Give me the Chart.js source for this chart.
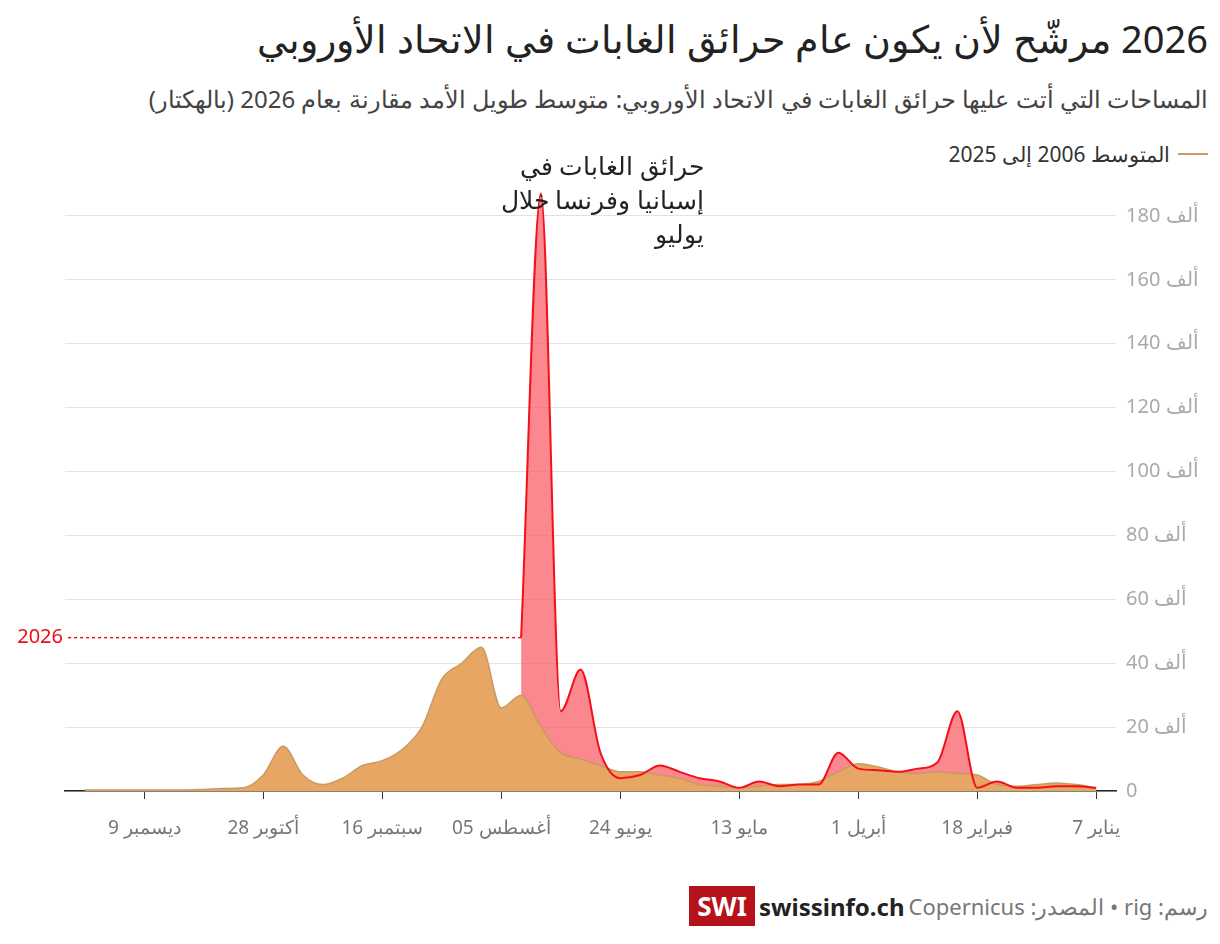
<!DOCTYPE html>
<html lang="ar">
<head>
<meta charset="utf-8">
<script src="https://cdn.jsdelivr.net/npm/chart.js@4"></script>
<style>
  body { margin:0; width:1220px; height:944px; background:#fff; font-family:"Noto Sans", sans-serif; color:#222; position:relative; overflow:hidden; }
  #title { position:absolute; right:12px; top:12px; font-size:38px; direction:rtl; }
  #sub { position:absolute; right:12px; top:82px; font-size:24px; color:#444; direction:rtl; }
  #legend { position:absolute; right:12px; top:140px; font-size:21px; color:#333; direction:rtl; display:flex; align-items:center; gap:8px; }
  #legend span.sw { width:30px; height:2px; background:#c99a60; display:inline-block; }
  #note { position:absolute; left:460px; width:244px; top:148px; font-size:25px; line-height:34px; text-align:right; direction:rtl; color:#222; }
  #wrap { position:absolute; left:0; top:150px; width:1220px; height:700px; }
  #foot { position:absolute; right:12px; top:886px; display:flex; align-items:center; gap:4px; direction:ltr; }
  #foot .logo { background:#b5121b; color:#fff; font-weight:bold; font-size:26px; padding:2px 8px; }
  #foot .site { font-weight:bold; font-size:24px; color:#222; }
  #foot .src { font-size:22px; color:#777; direction:rtl; }
</style>
</head>
<body>
<div id="title">2026 مرشّح لأن يكون عام حرائق الغابات في الاتحاد الأوروبي</div>
<div id="sub">المساحات التي أتت عليها حرائق الغابات في الاتحاد الأوروبي: متوسط طويل الأمد مقارنة بعام 2026 (بالهكتار)</div>
<div id="legend"><span class="sw"></span><span>المتوسط 2006 إلى 2025</span></div>
<div id="wrap"><canvas id="c"></canvas></div>
<div id="note">حرائق الغابات في إسبانيا وفرنسا خلال يوليو</div>
<div id="foot"><span class="logo">SWI</span><span class="site">swissinfo.ch</span><span class="src">رسم: rig • المصدر: Copernicus</span></div>
<script>
// weeks 1..52 (week 1 = 7 January)
const average = [1,2,2.5,2,1.5,2,5,5.5,6,5.5,6,7.5,8.5,6,3,2,2,1.5,1,1.5,2,4,5,6,6,8,10,12,20,30,26,45,40,35,20,13,9.5,8,4,2,5,14,5,1,0.8,0.5,0.3,0.3,0.3,0.3,0.3,0.3];
const y2026 = [1,1.5,1.5,1,1,3,1,25,9,7,6,6.5,7,12,2,2,1.5,3,1,3,4,6,8,5,4,12,38,25,187,48];
const tickWeeks = [1,7,13,19,25,31,37,43,49];
const tickDays = ["7","18","1","13","24","05","16","28","9"];
const tickMonths = ["يناير","فبراير","أبريل","مايو","يونيو","أغسطس","سبتمبر","أكتوبر","ديسمبر"];
const yTicks = [0,20,40,60,80,100,120,140,160,180];
const current = 48;

const pts = a => a.map((v, i) => ({x: i + 1, y: v}));

// number + word drawn as two pieces so the order is fixed left to right
function pair(ctx, left, num, word, yy) {
  ctx.textAlign = 'left';
  ctx.fillText(num, left, yy);
  if (word) ctx.fillText(word, left + ctx.measureText(num + ' ').width, yy);
}

const labelPlugin = {
  id: 'labels',
  afterDraw(chart) {
    const {ctx, scales:{x, y}} = chart;
    ctx.save();
    ctx.direction = 'ltr';
    ctx.textBaseline = 'middle';
    ctx.fillStyle = '#aaa'; ctx.font = '20px "Noto Sans"';
    yTicks.forEach(v => pair(ctx, x.right + 10, String(v), v ? 'ألف' : '', y.getPixelForValue(v)));
    ctx.fillStyle = '#777'; ctx.font = '19px "Noto Sans"';
    tickWeeks.forEach((v, i) => {
      const w = ctx.measureText(tickDays[i] + ' ' + tickMonths[i]).width;
      pair(ctx, x.getPixelForValue(v) - w / 2, tickDays[i], tickMonths[i], y.bottom + 38);
    });
    // 2026 marker
    const yy = y.getPixelForValue(current);
    ctx.strokeStyle = '#e8101a'; ctx.lineWidth = 1.5; ctx.setLineDash([3,3]);
    ctx.beginPath(); ctx.moveTo(x.getPixelForValue(y2026.length), yy); ctx.lineTo(x.left, yy); ctx.stroke();
    ctx.setLineDash([]);
    ctx.fillStyle = '#e8101a'; ctx.font = '20px "Noto Sans"'; ctx.textAlign = 'right';
    ctx.fillText('2026', x.left - 2, yy);
    ctx.restore();
  }
};

new Chart(document.getElementById('c'), {
  type: 'line',
  data: {
    datasets: [
      { order: 2, data: pts(y2026), fill: 'origin', backgroundColor: 'rgba(250,95,105,0.75)', borderWidth: 0, pointRadius: 0, cubicInterpolationMode: 'monotone' },
      { order: 1, data: pts(average), fill: 'origin', backgroundColor: 'rgb(232,166,100)', borderColor: '#c99a60', borderWidth: 1.5, pointRadius: 0, cubicInterpolationMode: 'monotone' },
      { order: 0, data: pts(y2026), fill: false, borderColor: '#f2101a', borderWidth: 2, pointRadius: 0, cubicInterpolationMode: 'monotone' }
    ]
  },
  options: {
    animation: false, responsive: true, maintainAspectRatio: false,
    layout: { padding: { left: 65, right: 104, top: 34, bottom: 51 } },
    plugins: { legend: { display: false }, tooltip: { enabled: false } },
    scales: {
      x: {
        type: 'linear', reverse: true, min: 0, max: 53,
        afterBuildTicks: s => { s.ticks = tickWeeks.map(v => ({value: v})); },
        ticks: { display: false },
        grid: { drawOnChartArea: false, drawTicks: true, tickLength: 8, color: '#333' },
        border: { color: '#222', width: 1.5 }
      },
      y: {
        position: 'right', min: 0, max: 190,
        afterBuildTicks: s => { s.ticks = yTicks.map(v => ({value: v})); },
        ticks: { display: false },
        grid: { color: '#e2e2e2', drawTicks: false },
        border: { display: false }
      }
    }
  },
  plugins: [labelPlugin]
});
</script>
</body>
</html>
